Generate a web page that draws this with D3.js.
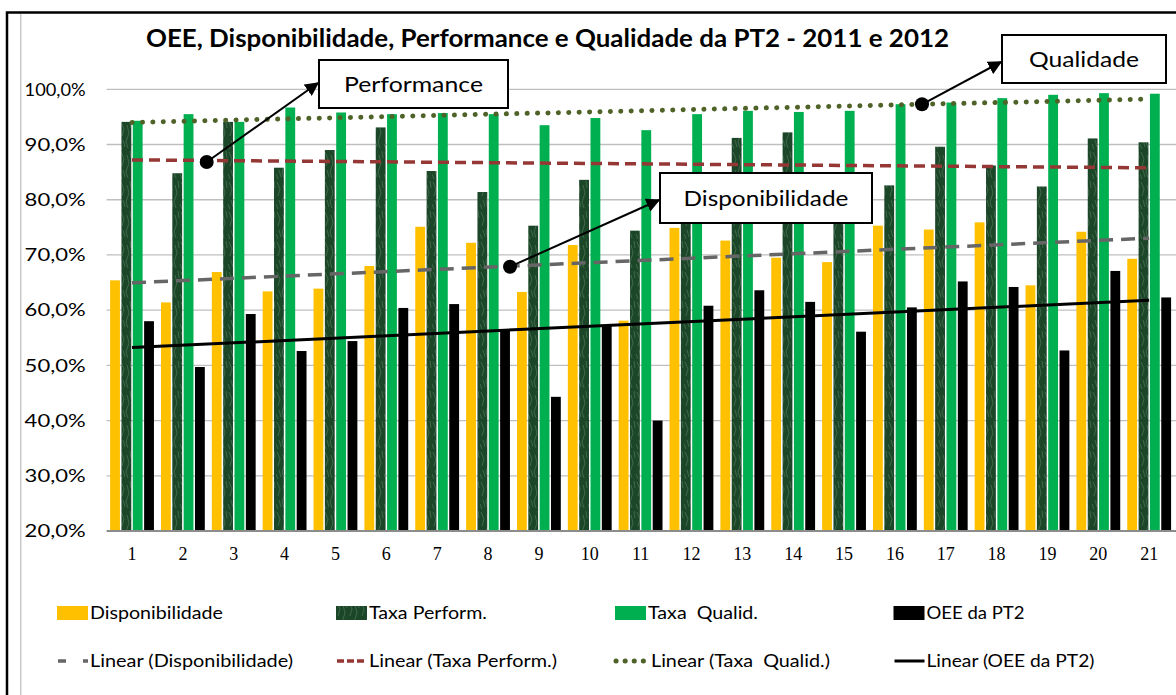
<!DOCTYPE html>
<html>
<head>
<meta charset="utf-8">
<script src="https://cdn.jsdelivr.net/npm/d3@7"></script>
<style>
body { margin: 0; background: #fff; }
text { font-family: Lato, "Open Sans", sans-serif; fill: #000; white-space: pre; }
</style>
</head>
<body>
<svg id="chart" width="1176" height="695"></svg>
<script>
// values (fractions)
var categories = ["1","2","3","4","5","6","7","8","9","10","11","12","13","14","15","16","17","18","19","20","21"];
var disponibilidade = [0.654,0.614,0.669,0.634,0.639,0.680,0.751,0.722,0.633,0.718,0.581,0.749,0.726,0.695,0.687,0.753,0.746,0.759,0.645,0.742,0.693];
var taxaPerform = [0.941,0.848,0.941,0.858,0.890,0.931,0.852,0.814,0.753,0.836,0.744,0.850,0.912,0.922,0.850,0.826,0.896,0.862,0.824,0.911,0.904];
var taxaQualid = [0.943,0.955,0.941,0.967,0.958,0.955,0.957,0.955,0.935,0.948,0.926,0.955,0.961,0.959,0.961,0.973,0.976,0.984,0.990,0.993,0.992];
var oeePT2 = [0.580,0.497,0.593,0.526,0.544,0.604,0.611,0.565,0.443,0.573,0.400,0.608,0.636,0.615,0.561,0.605,0.652,0.642,0.527,0.671,0.623];
var yTicks = [0.2,0.3,0.4,0.5,0.6,0.7,0.8,0.9,1.0];
var seriesNames = ["Disponibilidade","Taxa Perform.","Taxa  Qualid.","OEE da PT2"];
var trendNames = ["Linear (Disponibilidade)","Linear (Taxa Perform.)","Linear (Taxa  Qualid.)","Linear (OEE da PT2)"];

var series = [
    { name: seriesNames[0], values: disponibilidade, fill: "#FFC000", trend: { stroke: "#666666", width: 3.5, dash: "14 8", cap: "butt" } },
    { name: seriesNames[1], values: taxaPerform, fill: "url(#marble)", trend: { stroke: "#953735", width: 3.5, dash: "11 6", cap: "butt" } },
    { name: seriesNames[2], values: taxaQualid, fill: "#00B050", trend: { stroke: "#4F6228", width: 5, dash: "0.1 10.3", cap: "round" } },
    { name: seriesNames[3], values: oeePT2, fill: "#000000", trend: { stroke: "#000000", width: 3, dash: null, cap: "butt" } }
];
// short samples of each trend style for the legend
var legendDash = ["8 17", "7 3", "0.1 9", null];

var svg = d3.select("#chart");
var defs = svg.append("defs");

// textured dark green fill for the performance bars
var pat = defs.append("pattern").attr("id", "marble")
    .attr("patternUnits", "userSpaceOnUse").attr("width", 12).attr("height", 30);
pat.append("rect").attr("width", 12).attr("height", 30).attr("fill", "#1c4628");
pat.append("path")
    .attr("d", "M1,2 L4,9 L2,16 M7,5 L9,13 L6,22 L8,28 M3,20 L5,27 M10,1 L11,8 M0,24 L2,29")
    .attr("stroke", "#557f5f").attr("stroke-width", 0.8).attr("fill", "none").attr("opacity", 0.75);

defs.append("marker").attr("id", "arrow")
    .attr("viewBox", "0 0 10 10").attr("refX", 9).attr("refY", 5)
    .attr("markerWidth", 7).attr("markerHeight", 7).attr("orient", "auto")
    .attr("markerUnits", "strokeWidth")
    .append("path").attr("d", "M0,0 L10,5 L0,10 Z").attr("fill", "#000");

var plot = { left: 106.6, right: 1174.6, top: 89.3, bottom: 531 };

var x = d3.scaleBand().domain(categories).range([plot.left, plot.right]).padding(0);
var xs = d3.scaleBand().domain(d3.range(4)).range([0, x.bandwidth()])
    .paddingInner(0.133).paddingOuter(0.31);
var y = d3.scaleLinear().domain([0.2, 1.0]).range([plot.bottom, plot.top]);

// gridlines
svg.append("g").selectAll("line").data(yTicks.slice(1)).join("line")
    .attr("x1", plot.left).attr("x2", 1176)
    .attr("y1", function (d) { return y(d); }).attr("y2", function (d) { return y(d); })
    .attr("stroke", "#BFBFBF").attr("stroke-width", 1.3);

// y axis labels
var yAxis = d3.axisLeft(y).tickValues(yTicks).tickSize(0).tickPadding(21)
    .tickFormat(function (d) { return d3.format(".1f")(d * 100).replace(".", ",") + "%"; });
var gy = svg.append("g").attr("transform", "translate(" + plot.left + ",0)").call(yAxis);
gy.select(".domain").remove();
gy.selectAll("text").style("font-family", "Lato, sans-serif").style("font-size", "18px").attr("fill", "#000")
    .attr("textLength", 61).attr("lengthAdjust", "spacingAndGlyphs");

// bars
series.forEach(function (s, si) {
    svg.append("g").selectAll("rect").data(s.values).join("rect")
        .attr("x", function (d, i) { return x(categories[i]) + xs(si); })
        .attr("width", xs.bandwidth())
        .attr("y", function (d) { return y(d); })
        .attr("height", function (d) { return y(0.2) - y(d); })
        .attr("fill", s.fill);
});

// x axis
var xAxis = d3.axisBottom(x).tickSize(0).tickPadding(16);
var gx = svg.append("g").attr("transform", "translate(0," + plot.bottom + ")").call(xAxis);
gx.select(".domain").remove();
gx.selectAll("text").style("font-family", "'Liberation Serif', serif").style("font-size", "18px").attr("fill", "#000");
svg.append("line").attr("x1", plot.left).attr("x2", 1176).attr("y1", plot.bottom).attr("y2", plot.bottom)
    .attr("stroke", "#8C8C8C").attr("stroke-width", 2);

// linear trendlines (least squares on 1..n, like Excel)
function linearFit(values) {
    var n = values.length;
    var xsum = 0, ysum = 0, xy = 0, xx = 0;
    values.forEach(function (v, i) {
        var k = i + 1;
        xsum += k; ysum += v; xy += k * v; xx += k * k;
    });
    var b = (n * xy - xsum * ysum) / (n * xx - xsum * xsum);
    var a = (ysum - b * xsum) / n;
    return function (k) { return a + b * k; };
}
var cx = function (c) { return x(c) + x.bandwidth() / 2; };
series.forEach(function (s) {
    var f = linearFit(s.values);
    var n = categories.length;
    svg.append("line")
        .attr("x1", cx(categories[0])).attr("y1", y(f(1)))
        .attr("x2", cx(categories[n - 1])).attr("y2", y(f(n)))
        .attr("stroke", s.trend.stroke).attr("stroke-width", s.trend.width)
        .attr("stroke-dasharray", s.trend.dash).attr("stroke-linecap", s.trend.cap);
});

// callouts
var callouts = [
    { label: "Performance", box: [319, 60, 189, 48], dot: [206.7, 162], tip: [318, 83], len: 139 },
    { label: "Disponibilidade", box: [660, 173, 212, 50], dot: [510, 266.7], tip: [659, 200], len: 165 },
    { label: "Qualidade", box: [1002, 35, 164, 48], dot: [922, 104.3], tip: [1001, 62], len: 110 }
];
var gc = svg.append("g");
callouts.forEach(function (c) {
    gc.append("line").attr("x1", c.dot[0]).attr("y1", c.dot[1]).attr("x2", c.tip[0]).attr("y2", c.tip[1])
        .attr("stroke", "#000").attr("stroke-width", 2).attr("marker-end", "url(#arrow)");
    gc.append("circle").attr("cx", c.dot[0]).attr("cy", c.dot[1]).attr("r", 7).attr("fill", "#000");
    gc.append("rect").attr("x", c.box[0]).attr("y", c.box[1]).attr("width", c.box[2]).attr("height", c.box[3])
        .attr("fill", "#fff").attr("stroke", "#000").attr("stroke-width", 2);
    gc.append("text").attr("x", c.box[0] + c.box[2] / 2).attr("y", c.box[1] + c.box[3] / 2 + 8)
        .attr("text-anchor", "middle").style("font-size", "22px")
        .attr("textLength", c.len).attr("lengthAdjust", "spacingAndGlyphs").text(c.label);
});

// legend
var legendCols = [57, 336, 615, 893.5];
var legendLen = [133, 118, 110, 98];
var trendLen = [203, 188, 179, 168];
var lg = svg.append("g");
series.forEach(function (s, i) {
    var x0 = legendCols[i];
    lg.append("rect").attr("x", x0).attr("y", 606).attr("width", 31).attr("height", 14).attr("fill", s.fill);
    lg.append("text").attr("x", x0 + 33).attr("y", 619).style("font-size", "18px")
        .attr("textLength", legendLen[i]).attr("lengthAdjust", "spacingAndGlyphs").text(s.name);
    lg.append("line").attr("x1", x0 + 1).attr("x2", x0 + 31).attr("y1", 661).attr("y2", 661)
        .attr("stroke", s.trend.stroke).attr("stroke-width", s.trend.width)
        .attr("stroke-dasharray", legendDash[i]).attr("stroke-linecap", s.trend.cap);
    lg.append("text").attr("x", x0 + (i == 2 ? 36 : 33)).attr("y", 667).style("font-size", "18px")
        .attr("textLength", trendLen[i]).attr("lengthAdjust", "spacingAndGlyphs").text(trendNames[i]);
});

// title
svg.append("text").attr("x", 146).attr("y", 47).style("font-size", "25px").style("font-weight", "bold")
    .attr("textLength", 803).attr("lengthAdjust", "spacingAndGlyphs")
    .text("OEE, Disponibilidade, Performance e Qualidade da PT2 - 2011 e 2012");

// frame
svg.append("path").attr("d", "M7,695 L7,12.5 L1176,12.5").attr("fill", "none")
    .attr("stroke", "#000").attr("stroke-width", 2.5);
svg.append("line").attr("x1", 20.7).attr("x2", 20.7).attr("y1", 14).attr("y2", 695)
    .attr("stroke", "#C8C8C8").attr("stroke-width", 1.5);
</script>
</body>
</html>
